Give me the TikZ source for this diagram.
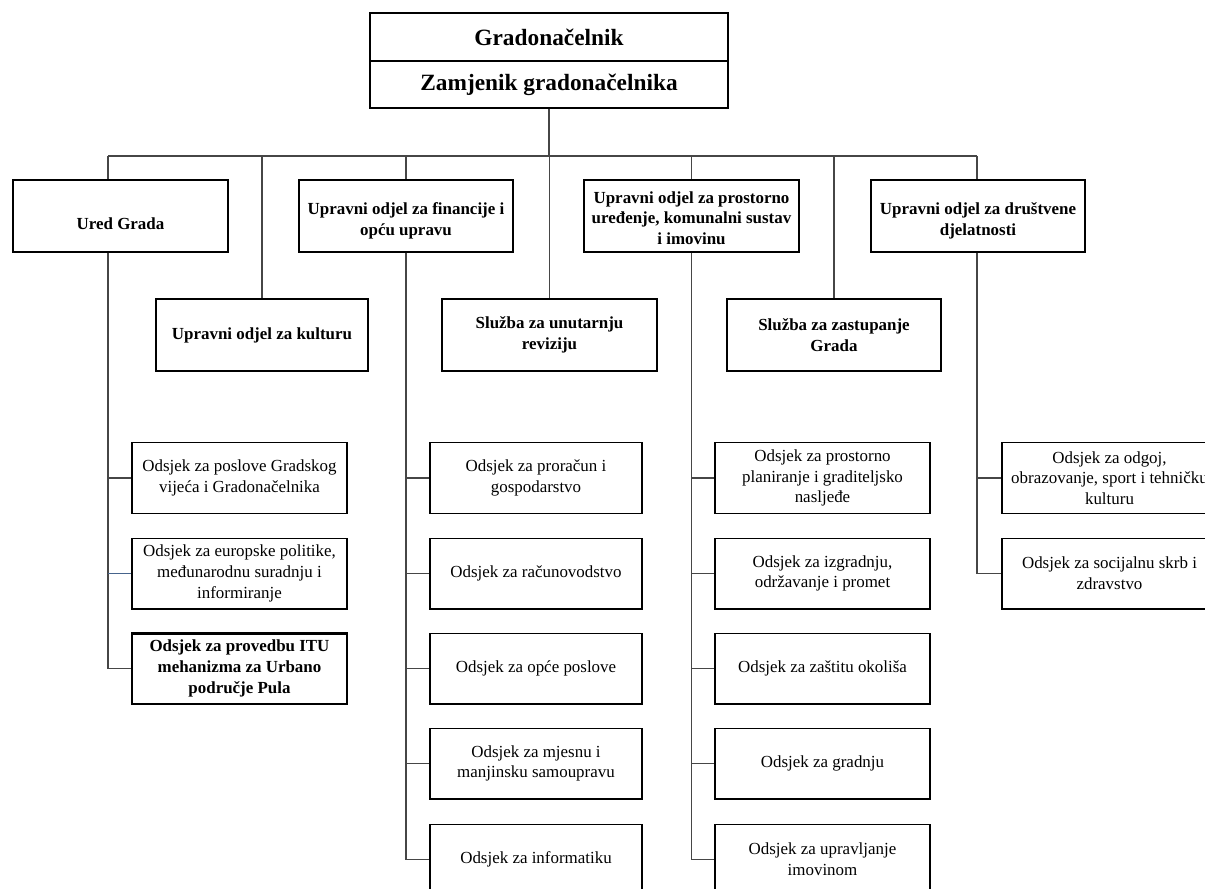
\documentclass[tikz,border=0pt]{standalone}
\usepackage{fontspec}
\setmainfont{Liberation Serif}
\definecolor{linegray}{RGB}{70,70,70}
\definecolor{bluegray}{RGB}{70,100,140}
\tikzset{
  box/.style={draw=black, line width=1pt, inner sep=0pt, align=center,
    font=\fontsize{12.7}{15.5}\selectfont, minimum height=53pt},
  hbox/.style={draw=black, line width=1pt, inner sep=0pt, minimum height=54pt},
  htext/.style={align=center, inner sep=0pt, font=\bfseries\fontsize{12.7}{15.5}\selectfont},
  topbox/.style={draw=black, line width=1pt, inner sep=0pt, minimum width=268.5pt,
    font=\bfseries\fontsize{17.5}{20}\selectfont},
  conn/.style={draw=linegray, line width=0.8pt},
}
\begin{document}
\begin{tikzpicture}[x=0.75pt,y=-0.75pt]
\useasboundingbox (0,0) rectangle (1205,888);
\clip (0,0) rectangle (1205,888);

% top
\node[topbox, minimum height=36pt] (gr) at (549,37) {Gradonačelnik};
\node[topbox, minimum height=35.25pt] (zam) at (549,84.5) {Zamjenik gradonačelnika};

\coordinate (busL) at (108,156);
\coordinate (busR) at (977,156);
\draw[conn] (zam.south) -- (zam.south |- busL);
\draw[conn] (busL) -- (busR);

% level 1
\node[hbox, minimum width=161.25pt] (ured) at (120.5,216) {};
\node[htext] (ured-t) at (120.5,224) {Ured Grada};
\node[hbox, minimum width=160.5pt] (fin) at (406,216) {};
\node[htext] (fin-t) at (406,221) {Upravni odjel za financije i\\opću upravu};
\node[hbox, minimum width=161.25pt] (pros) at (691.5,216) {};
\node[htext] (pros-t) at (691.5,218) {Upravni odjel za prostorno\\uređenje, komunalni sustav\\i imovinu};
\node[hbox, minimum width=160.5pt] (drus) at (978,216) {};
\node[htext] (drus-t) at (978,221) {Upravni odjel za društvene\\djelatnosti};

\node[hbox, minimum width=159pt] (kult) at (262,335) {};
\node[htext] (kult-t) at (262,335) {Upravni odjel za kulturu};
\node[hbox, minimum width=161.25pt] (rev) at (549.5,335) {};
\node[htext] (rev-t) at (549.5,335) {Služba za unutarnju\\reviziju};
\node[hbox, minimum width=160.5pt] (zast) at (834,335) {};
\node[htext] (zast-t) at (834,335) {Služba za zastupanje\\Grada};

\draw[conn] (busL) -- (busL |- ured.north);
\draw[conn] (fin.north |- busL) -- (fin.north);
\draw[conn] (pros.north |- busL) -- (pros.north);
\draw[conn] (busR) -- (busR |- drus.north);
\draw[conn] (kult.north |- busL) -- (kult.north);
\draw[conn] (rev.north |- busL) -- (rev.north);
\draw[conn] (zast.north |- busL) -- (zast.north);

% Ured Grada children
\node[box, minimum width=161.25pt] (u1) at (239.5,478) {Odsjek za poslove Gradskog\\vijeća i Gradonačelnika};
\node[box, minimum width=161.25pt] (u2) at (239.5,573.5) {Odsjek za europske politike,\\međunarodnu suradnju i\\informiranje};
\node[box, minimum width=161.25pt, line width=2pt, font=\bfseries\fontsize{12.7}{15.5}\selectfont] (u3) at (239.5,668.5) {Odsjek za provedbu ITU\\mehanizma za Urbano\\područje Pula};
\draw[conn] (busL |- ured.south) -- (busL |- u3.west);
\draw[conn] (busL |- u1.west) -- (u1.west);
\draw[draw=bluegray, line width=0.8pt] (busL |- u2.west) -- (u2.west);
\draw[conn] (busL |- u3.west) -- (u3.west);

% Financije children
\node[box, minimum width=159pt] (f1) at (536,478) {Odsjek za proračun i\\gospodarstvo};
\node[box, minimum width=159pt] (f2) at (536,573.5) {Odsjek za računovodstvo};
\node[box, minimum width=159pt] (f3) at (536,668.5) {Odsjek za opće poslove};
\node[box, minimum width=159pt] (f4) at (536,763.5) {Odsjek za mjesnu i\\manjinsku samoupravu};
\node[box, minimum width=159pt] (f5) at (536,859.5) {Odsjek za informatiku};
\draw[conn] (fin.south) -- (fin.south |- f5.west);
\foreach \n in {f1,f2,f3,f4,f5} \draw[conn] (fin.south |- \n.west) -- (\n.west);

% Prostorno children
\node[box, minimum width=161.25pt] (p1) at (822.5,478) {Odsjek za prostorno\\planiranje i graditeljsko\\nasljeđe};
\node[box, minimum width=161.25pt] (p2) at (822.5,573.5) {Odsjek za izgradnju,\\održavanje i promet};
\node[box, minimum width=161.25pt] (p3) at (822.5,668.5) {Odsjek za zaštitu okoliša};
\node[box, minimum width=161.25pt] (p4) at (822.5,763.5) {Odsjek za gradnju};
\node[box, minimum width=161.25pt] (p5) at (822.5,859.5) {Odsjek za upravljanje\\imovinom};
\draw[conn] (pros.south) -- (pros.south |- p5.west);
\foreach \n in {p1,p2,p3,p4,p5} \draw[conn] (pros.south |- \n.west) -- (\n.west);

% Drustvene children
\node[box, minimum width=161.25pt] (d1) at (1109.5,478) {Odsjek za odgoj,\\obrazovanje, sport i tehničku\\kulturu};
\node[box, minimum width=161.25pt] (d2) at (1109.5,573.5) {Odsjek za socijalnu skrb i\\zdravstvo};
\draw[conn] (busR |- drus.south) -- (busR |- d2.west);
\draw[conn] (busR |- d1.west) -- (d1.west);
\draw[conn] (busR |- d2.west) -- (d2.west);
\end{tikzpicture}
\end{document}
